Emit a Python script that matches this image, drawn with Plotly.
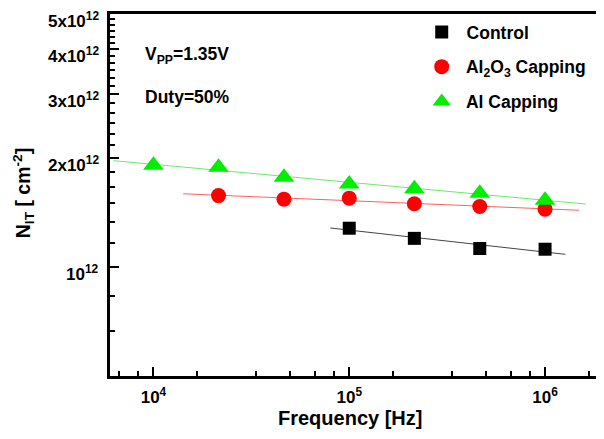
import numpy as np
import plotly.graph_objects as go

# ---- data ----
freq_control = [1e5, 2.15e5, 4.64e5, 1e6]
nit_control = [1.28e12, 1.20e12, 1.125e12, 1.12e12]

freq_al2o3 = [2.15e4, 4.64e4, 1e5, 2.15e5, 4.64e5, 1e6]
nit_al2o3 = [1.575e12, 1.54e12, 1.55e12, 1.495e12, 1.47e12, 1.445e12]

freq_al = [1e4, 2.15e4, 4.64e4, 1e5, 2.15e5, 4.64e5, 1e6]
nit_al = [1.91e12, 1.885e12, 1.77e12, 1.695e12, 1.645e12, 1.60e12, 1.53e12]

# extent of fitted lines (frequency)
fit_range_control = [8.0e4, 1.27e6]
fit_range_al2o3 = [1.42e4, 1.49e6]
fit_range_al = [6.24e3, 1.61e6]

x_tickvals = [1e4, 1e5, 1e6]
x_ticktext = ["10<sup>4</sup>", "10<sup>5</sup>", "10<sup>6</sup>"]
y_tickvals = [1e12, 2e12, 3e12, 4e12, 5e12]
y_ticktext = ["10<sup>12</sup>", "2x10<sup>12</sup>", "3x10<sup>12</sup>",
              "4x10<sup>12</sup>", "5x10<sup>12</sup>"]

FONT = "Liberation Sans"


def fit_line(xs, ys, xr):
    p = np.polyfit(np.log10(xs), np.log10(ys), 1)
    lx = np.log10(np.array(xr))
    return list(10 ** lx), list(10 ** np.polyval(p, lx))


fig = go.Figure()

series = [
    ("Control", freq_control, nit_control, fit_range_control, "black", "#444444", "square", 13),
    ("Al<sub>2</sub>O<sub>3</sub> Capping", freq_al2o3, nit_al2o3, fit_range_al2o3, "#ff0000", "#ff6060", "circle", 15),
    ("Al Capping", freq_al, nit_al, fit_range_al, "#00ee00", "#66ee66", "triangle-up", 18),
]

for i, (name, xs, ys, xr, col, lcol, sym, sz) in enumerate(series):
    fx, fy = fit_line(xs, ys, xr)
    fig.add_trace(go.Scatter(x=fx, y=fy, mode="lines", line=dict(color=lcol, width=1),
                             showlegend=False, hoverinfo="skip"))
for i, (name, xs, ys, xr, col, lcol, sym, sz) in enumerate(series):
    fig.add_trace(go.Scatter(x=xs, y=ys, mode="markers", name=" " + name, legendgroup=f"g{i}",
                             marker=dict(symbol=sym, size=sz, color=col, line=dict(width=0))))

# minor ticks
x_minor = []
for d in [1e3, 1e4, 1e5, 1e6]:
    for k in range(1, 6):
        v = k * d * 10 / 6
        if 6e3 <= v <= 2e6 and v not in x_tickvals:
            x_minor.append(v)
y_minor = [k * 1e12 / 6 for k in range(3, 31) if k % 6 != 0]

axis_common = dict(showline=True, linecolor="black", linewidth=2.5, ticks="inside",
                   tickcolor="black", tickwidth=2, ticklen=9, showgrid=False, zeroline=False,
                   automargin=False, ticklabeloverflow="allow",
                   tickfont=dict(family=FONT, size=17, color="black", weight="bold"))

fig.update_xaxes(type="log", range=[np.log10(6e3), np.log10(2e6)],
                 tickmode="array", tickvals=x_tickvals, ticktext=x_ticktext,
                 mirror=True, ticklabelstandoff=4,
                 minor=dict(tickmode="array", tickvals=x_minor, ticks="inside", ticklen=5,
                            tickwidth=2, tickcolor="black", showgrid=False),
                 **axis_common)
fig.update_yaxes(type="log", range=[np.log10(5e11), np.log10(5e12)],
                 tickmode="array", tickvals=y_tickvals, ticktext=y_ticktext,
                 showticklabels=False,
                 minor=dict(tickmode="array", tickvals=y_minor, ticks="inside", ticklen=5,
                            tickwidth=2, tickcolor="black", showgrid=False),
                 **axis_common)

# y tick labels, set slightly below their ticks as in the original
for v, t in zip(y_tickvals, y_ticktext):
    fig.add_annotation(x=0, xref="paper", y=np.log10(v), yref="y", xanchor="right",
                       yanchor="middle", xshift=-9, yshift=-6, text=t, showarrow=False,
                       font=dict(family=FONT, size=17, color="black", weight="bold"))

# axis titles
fig.add_annotation(x=0.486, y=-0.115, xref="paper", yref="paper", xanchor="center", yanchor="middle",
                   text="Frequency [Hz]", showarrow=False,
                   font=dict(family=FONT, size=20, color="black", weight="bold"))
fig.add_annotation(x=-0.176, y=0.505, xref="paper", yref="paper", xanchor="center", yanchor="middle",
                   text="N<sub>IT</sub> [ cm<sup>-2</sup>]", showarrow=False, textangle=-90,
                   font=dict(family=FONT, size=19.5, color="black", weight="bold"))

fig.add_annotation(x=0.067, y=0.886, xref="paper", yref="paper", xanchor="left", yanchor="middle",
                   text="V<sub>PP</sub>=1.35V", showarrow=False,
                   font=dict(family=FONT, size=17.5, color="black", weight="bold"))
fig.add_annotation(x=0.067, y=0.771, xref="paper", yref="paper", xanchor="left", yanchor="middle",
                   text="Duty=50%", showarrow=False,
                   font=dict(family=FONT, size=17.5, color="black", weight="bold"))

# the page body adds an 8px offset; margins compensate so the plot area sits
# at x 110..604, y 14..376 in the 604x439 window
fig.update_layout(
    width=604, height=439,
    margin=dict(l=102, r=8, t=6, b=71),
    paper_bgcolor="white", plot_bgcolor="white",
    showlegend=True,
    legend=dict(x=0.631, y=1.0, xanchor="left", yanchor="top", bgcolor="rgba(0,0,0,0)",
                traceorder="grouped", tracegroupgap=9,
                font=dict(family=FONT, size=17.5, color="black", weight="bold")),
)

fig.write_html("out.html")
